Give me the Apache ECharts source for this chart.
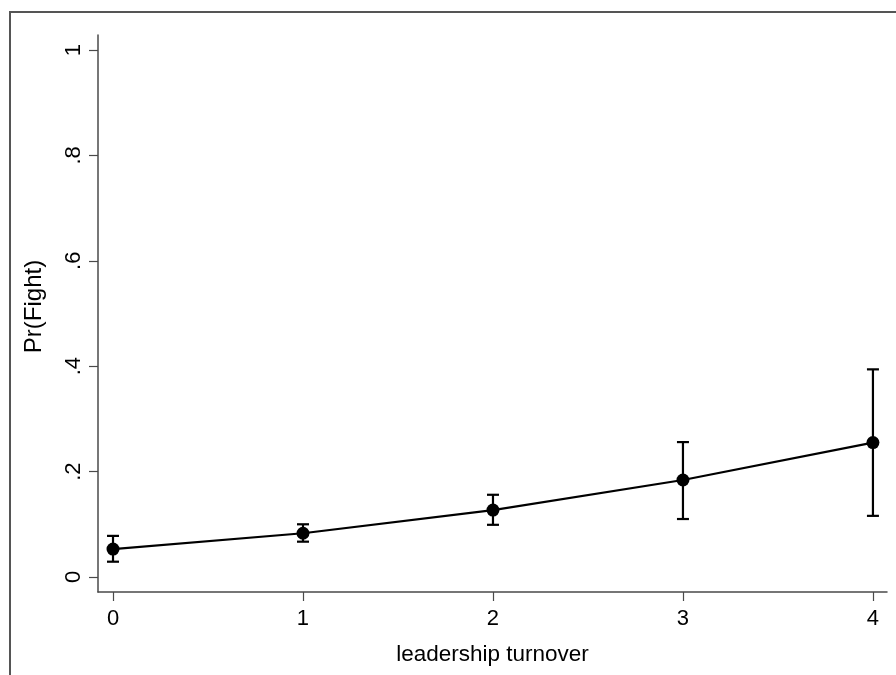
<!DOCTYPE html>
<html>
<head>
<meta charset="utf-8">
<script src="https://cdn.jsdelivr.net/npm/echarts@6/dist/echarts.min.js"></script>
<style>html,body{margin:0;padding:0;background:#fff}#c{width:896px;height:675px}</style>
</head>
<body>
<div id="c"></div>
<script>
const turnover = [0, 1, 2, 3, 4];
const prFight = [0.053, 0.083, 0.127, 0.184, 0.255];
const ciLower = [0.029, 0.067, 0.099, 0.110, 0.116];
const ciUpper = [0.078, 0.100, 0.156, 0.256, 0.394];
const yTicks = [0, 0.2, 0.4, 0.6, 0.8, 1];
const yTickLabels = ['0', '.2', '.4', '.6', '.8', '1'];
const xTicks = [0, 1, 2, 3, 4];

const chart = echarts.init(document.getElementById('c'), null, {renderer: 'canvas'});
const font = 'Liberation Sans, Arial, sans-serif';
const axisColor = '#4a4a4a';

const lineData = turnover.map((x, i) => [x, prFight[i]]);
const errData = turnover.map((x, i) => [x, ciLower[i], ciUpper[i]]);

chart.setOption({
  animation: false,
  backgroundColor: '#fff',
  graphic: [{
    type: 'rect',
    shape: {x: 10, y: 12, width: 1000, height: 800},
    style: {fill: 'none', stroke: '#555', lineWidth: 2},
    silent: true, z: -1
  }],
  grid: {left: 98, top: 35, right: 9, bottom: 83, containLabel: false},
  xAxis: {
    type: 'value',
    min: -0.079, max: 4.074,
    name: 'leadership turnover',
    nameLocation: 'middle',
    nameGap: 51,
    nameTextStyle: {fontFamily: font, fontSize: 22.5, color: '#000'},
    axisLine: {show: true, onZero: false, lineStyle: {color: axisColor, width: 1.5}},
    axisTick: {show: true, length: 9, customValues: xTicks, lineStyle: {color: axisColor, width: 1.2}},
    axisLabel: {customValues: xTicks, fontFamily: font, fontSize: 22, color: '#000', margin: 16,
      formatter: v => String(Math.round(v))},
    splitLine: {show: false}
  },
  yAxis: {
    type: 'value',
    min: -0.0285, max: 1.0285,
    name: 'Pr(Fight)',
    nameLocation: 'middle',
    nameGap: 52,
    nameTextStyle: {fontFamily: font, fontSize: 24, color: '#000', padding: [0, 0, 0, 14]},
    axisLine: {show: true, onZero: false, lineStyle: {color: axisColor, width: 1.5}},
    axisTick: {show: true, length: 9, customValues: yTicks, lineStyle: {color: axisColor, width: 1.2}},
    axisLabel: {customValues: yTicks, rotate: 90, fontFamily: font, fontSize: 22, color: '#000', margin: 13,
      formatter: v => yTickLabels[yTicks.findIndex(t => Math.abs(t - v) < 1e-6)] ?? ''},
    splitLine: {show: false}
  },
  series: [
    {
      type: 'custom',
      data: errData,
      z: 3,
      renderItem: function (params, api) {
        const x = api.value(0);
        const lo = api.coord([x, api.value(1)]);
        const hi = api.coord([x, api.value(2)]);
        const hw = 6;
        const st = {stroke: '#000', lineWidth: 2.2};
        return {
          type: 'group',
          children: [
            {type: 'line', shape: {x1: lo[0], y1: lo[1], x2: hi[0], y2: hi[1]}, style: st},
            {type: 'line', shape: {x1: lo[0] - hw, y1: lo[1], x2: lo[0] + hw, y2: lo[1]}, style: st},
            {type: 'line', shape: {x1: hi[0] - hw, y1: hi[1], x2: hi[0] + hw, y2: hi[1]}, style: st}
          ]
        };
      }
    },
    {
      type: 'line',
      data: lineData,
      z: 4,
      symbol: 'circle',
      symbolSize: 13,
      itemStyle: {color: '#000'},
      lineStyle: {color: '#000', width: 2.2}
    }
  ]
});
</script>
</body>
</html>
